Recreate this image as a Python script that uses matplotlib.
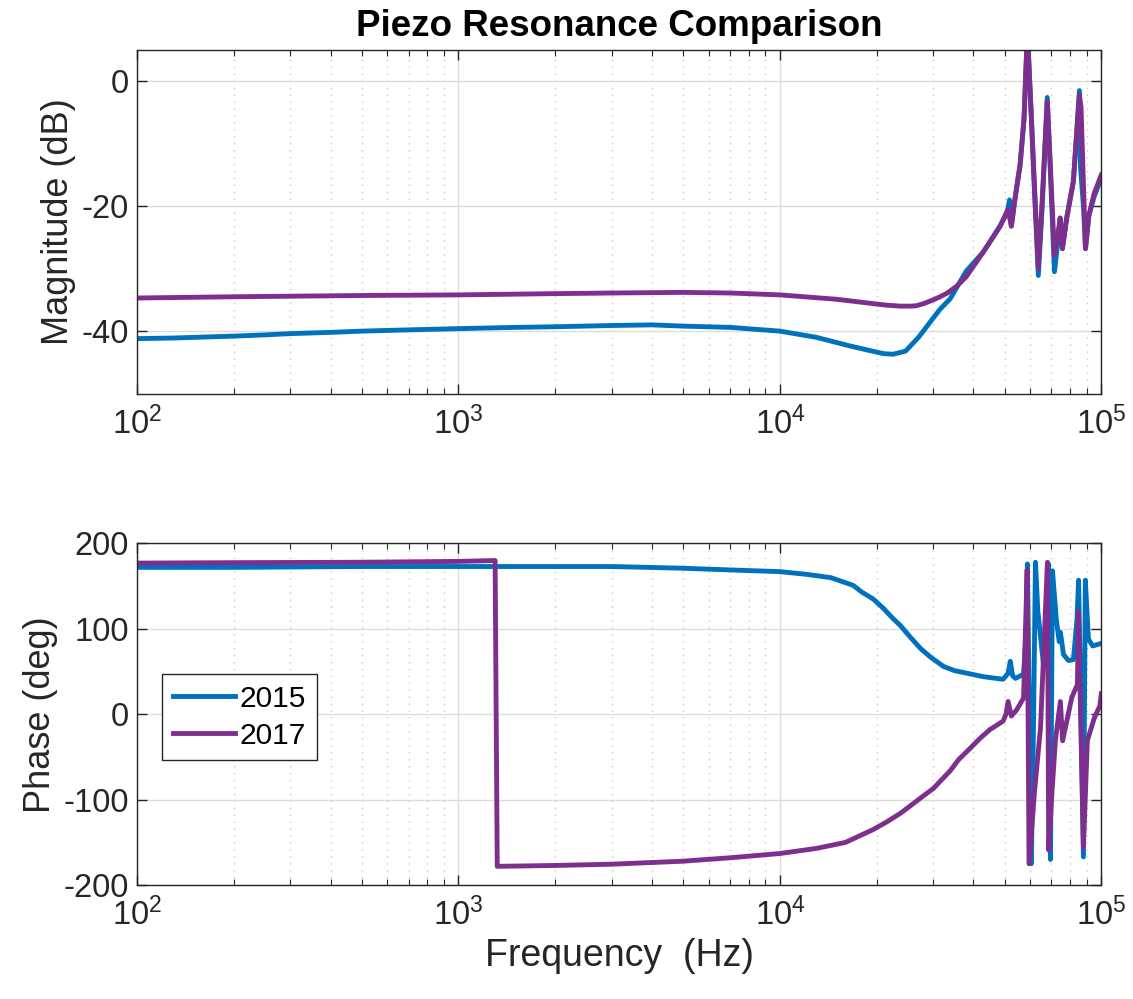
import matplotlib.pyplot as plt

plt.rcParams['font.family'] = ['Liberation Sans', 'DejaVu Sans']
plt.rcParams['mathtext.fontset'] = 'custom'
plt.rcParams['mathtext.rm'] = 'Liberation Sans'
plt.rcParams['mathtext.it'] = 'Liberation Sans:italic'
plt.rcParams['mathtext.bf'] = 'Liberation Sans:bold'
plt.rcParams['axes.unicode_minus'] = False

# 2015 measurement
f15_mag = [100, 130, 150, 200, 250, 300, 400, 500, 700, 1000, 1500, 2000, 3000, 4000,
           5000, 7000, 10000, 13000, 16600, 19000, 21000, 22500, 24600, 27000, 29400,
           31500, 33900, 38000, 43000, 48500, 51000, 51800, 52500, 54000, 55900,
           57500, 58900, 60500, 62000, 63700, 65500, 67900, 69500, 71500, 73500,
           74500, 75700, 78000, 81900, 85500, 86200, 88000, 89300, 91500, 95000,
           100000]
mag15 = [-41.2, -41.1, -41.0, -40.8, -40.6, -40.4, -40.2, -40.0, -39.8, -39.6, -39.4,
         -39.3, -39.1, -39.0, -39.2, -39.4, -40.0, -41.0, -42.4, -43.1, -43.6, -43.7,
         -43.2, -41.0, -38.5, -36.5, -34.8, -30.4, -27.3, -23.1, -21.0, -19.0, -23.2,
         -18.5, -13.4, -6.0, 8.0, -5.0, -18.0, -31.1, -20.0, -2.6, -15.0, -30.5,
         -25.0, -21.9, -26.8, -22.0, -16.0, -1.5, -13.9, -20.0, -26.8, -21.5, -18.5,
         -15.5]

f15_ph = [100, 200, 500, 1000, 2000, 3000, 5000, 7000, 10000, 12000, 14400, 16900,
          18000, 19500, 21000, 22500, 23700, 25500, 27400, 29400, 32300, 35000, 38300,
          43000, 49500, 51300, 52100, 53000, 54100, 57300, 58300, 58900, 60600, 61500,
          62400, 63500, 66100, 67300, 68500, 69500, 70500, 72500, 74000, 74600, 76300,
          79000, 81900, 84000, 85000, 88000, 89200, 91200, 94000, 100000]
ph15 = [172, 172, 173, 173, 173, 173, 171, 169, 167, 164, 160, 151, 143, 135, 124,
        112, 104, 90, 77, 67, 56, 51, 48, 44, 41, 48, 62, 45, 42, 47, 90, 176, -175,
        -20, 178, 120, 58, 100, 176, -170, 168, 110, 85, 96, 70, 63, 64, 110, 157,
        -167, 157, 88, 80, 83]

# 2017 measurement
f17_mag = [100, 200, 500, 1000, 2000, 3000, 5000, 7000, 10000, 15000, 19500, 21500,
           23700, 25500, 26500, 28000, 30000, 31500, 33200, 35500, 38000, 43000, 48500,
           51200, 52500, 54000, 55900, 57500, 58900, 60500, 62000, 63700, 65500, 67900,
           69500, 71500, 73500, 74500, 75700, 78000, 81900, 85500, 86500, 89300, 91500,
           95000, 100000]
mag17 = [-34.7, -34.5, -34.3, -34.2, -34.0, -33.9, -33.8, -33.9, -34.2, -34.9, -35.6,
         -35.85, -36.0, -36.0, -35.95, -35.6, -35.0, -34.5, -33.9, -32.8, -31.3, -27.3,
         -23.2, -20.5, -23.2, -18.5, -13.4, -6.0, 8.0, -5.0, -17.0, -30.0, -19.0, -3.2,
         -14.0, -27.9, -24.0, -21.9, -26.8, -22.0, -16.0, -2.2, -4.2, -26.8, -21.5,
         -18.0, -15.0]

f17_ph = [100, 200, 500, 1000, 1300, 1320, 2000, 3000, 5000, 7000, 10000, 13000, 16000,
          19500, 21500, 23700, 25500, 27400, 30000, 33900, 36000, 38800, 42000, 45000,
          49500, 50500, 51300, 52500, 54500, 57300, 58800, 59600, 62000, 64700, 68000,
          68600, 70000, 72000, 74600, 75800, 81000, 84300, 84900, 88000, 90500, 95000,
          99000, 100000]
ph17 = [177, 177.5, 178, 179, 180, -178, -177, -175.5, -172, -168, -163, -157, -150,
        -135, -126, -116, -107, -98, -87, -66, -53, -41, -28, -18, -8, 0, 15, -2, 5,
        19, 169, -175, -90, -16, 178, -159, -100, -30, 15, -31, 20, 35, 120, -156,
        -31, -5, 10, 24]

c15 = '#0072BD'
c17 = '#7E2F8E'
fg = '#262626'

fig = plt.figure(figsize=(11.33, 9.99), dpi=100)
ax1 = fig.add_axes([0.121, 0.606, 0.851, 0.344])
ax2 = fig.add_axes([0.121, 0.114, 0.851, 0.342])

ax1.semilogx(f15_mag, mag15, color=c15, lw=3.5, label='2015')
ax1.semilogx(f17_mag, mag17, color=c17, lw=3.5, label='2017')
ax2.semilogx(f15_ph, ph15, color=c15, lw=3.5, label='2015')
ax2.semilogx(f17_ph, ph17, color=c17, lw=3.5, label='2017')

ax1.set_ylim(-50, 5)
ax1.set_yticks([-40, -20, 0])
ax2.set_ylim(-200, 200)
ax2.set_yticks([-200, -100, 0, 100, 200])

for ax in (ax1, ax2):
    ax.set_xlim(100, 1e5)
    ax.grid(which='major', color='#dcdcdc', lw=1, ls='-')
    ax.grid(which='minor', axis='x', color='#c8c8c8', lw=1, ls=(0, (1, 4)))
    ax.set_axisbelow(True)
    ax.tick_params(which='both', direction='in', top=True, right=True,
                   colors=fg, labelsize=23.5)
    ax.tick_params(which='major', length=7, width=1)
    ax.tick_params(which='minor', length=4, width=0.8)
    ax.tick_params(axis='x', pad=9)
    ax.tick_params(axis='y', pad=6)
    for s in ax.spines.values():
        s.set_color(fg)
        s.set_linewidth(1)

ax1.set_ylabel('Magnitude (dB)', fontsize=26, color=fg)
ax2.set_ylabel('Phase (deg)', fontsize=26, color=fg)
ax2.set_xlabel('Frequency  (Hz)', fontsize=27, color=fg)
ax1.set_title('Piezo Resonance Comparison', fontsize=26.5, fontweight='bold', pad=10)

leg = ax2.legend(loc='upper left', bbox_to_anchor=(0.026, 0.617), borderaxespad=0,
                 fontsize=21.5, handlelength=2.1, handletextpad=0.15, borderpad=0.35,
                 labelspacing=0.3, fancybox=False, framealpha=1)
leg.get_frame().set_edgecolor(fg)
leg.get_frame().set_linewidth(1)

fig.savefig('out.png', dpi=100)
